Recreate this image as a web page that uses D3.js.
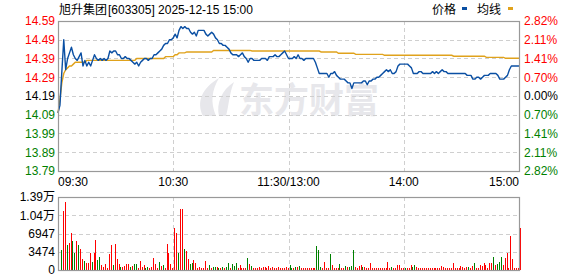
<!DOCTYPE html>
<html>
<head>
<meta charset="utf-8">
<script src="https://cdn.jsdelivr.net/npm/d3@7"></script>
<style>
  html, body { margin: 0; padding: 0; background: #fff; }
  svg { display: block; }
  text { font-family: "Liberation Sans", Arial, sans-serif; font-size: 12px; }
  .cjk { font-family: "Noto Sans CJK SC", sans-serif; }
</style>
</head>
<body>
<div id="chart"></div>
<script>
// 旭升集团 intraday chart, 2025-12-15

var stockName = '旭升集团';
var stockInfo = '[603305] 2025-12-15 15:00';
var preClose = 14.19;

var priceTicks = [14.59, 14.49, 14.39, 14.29, 14.19, 14.09, 13.99, 13.89, 13.79];
var pctTicks   = ['2.82', '2.11', '1.41', '0.70', '0.00', '0.70', '1.41', '2.11', '2.82'];

var timeTicks  = [0, 60, 120, 180, 240];
var timeLabels = ['09:30', '10:30', '11:30/13:00', '14:00', '15:00'];

var volTicks  = [0, 3474, 6947, 10420, 13894];
var volLabels = ['0', '3474', '6947', '1.04万', '1.39万'];

// minute prices, 09:30 .. 15:00
var price = [
  14.10,14.14,14.32,14.49,14.33,14.39,14.42,14.45,14.41,14.39,
  14.38,14.40,14.42,14.35,14.38,14.35,14.37,14.35,14.38,14.41,
  14.39,14.38,14.39,14.38,14.39,14.38,14.39,14.43,14.42,14.43,
  14.43,14.41,14.41,14.39,14.39,14.40,14.39,14.39,14.38,14.37,
  14.36,14.37,14.35,14.37,14.38,14.39,14.39,14.38,14.39,14.39,
  14.41,14.41,14.42,14.43,14.44,14.46,14.47,14.47,14.49,14.49,
  14.50,
  14.52,14.50,14.54,14.56,14.55,14.56,14.55,14.55,14.53,14.52,
  14.53,14.51,14.54,14.54,14.54,14.54,14.52,14.51,14.52,14.53,
  14.52,14.50,14.49,14.47,14.47,14.46,14.46,14.45,14.44,14.42,
  14.41,14.41,14.41,14.40,14.41,14.42,14.40,14.39,14.37,14.39,
  14.39,14.38,14.38,14.38,14.38,14.39,14.39,14.39,14.38,14.40,
  14.40,14.40,14.41,14.40,14.40,14.41,14.42,14.43,14.41,14.39,
  14.39,14.39,14.40,14.39,14.41,14.39,14.39,14.38,14.39,14.39,
  14.39,14.39,14.39,14.37,14.34,14.31,14.31,14.31,14.31,14.31,
  14.29,14.31,14.31,14.32,14.30,14.29,14.28,14.28,14.28,14.27,
  14.26,14.26,14.23,14.26,14.26,14.26,14.26,14.26,14.27,14.27,
  14.25,14.27,14.27,14.28,14.28,14.29,14.29,14.30,14.31,14.32,
  14.33,14.32,14.33,14.31,14.31,14.32,14.35,14.36,14.36,14.36,
  14.36,14.36,14.35,14.34,14.31,14.31,14.31,14.32,14.32,14.31,
  14.31,14.31,14.31,14.31,14.32,14.31,14.32,14.31,14.32,14.33,
  14.32,14.32,14.31,14.31,14.31,14.31,14.31,14.31,14.31,14.31,
  14.31,14.31,14.30,14.30,14.30,14.28,14.28,14.29,14.29,14.28,
  14.29,14.30,14.30,14.30,14.31,14.31,14.31,14.31,14.30,14.28,
  14.28,14.28,14.29,14.30,14.33,14.35,14.35,14.35,14.35,14.35
];

// average price line
var avgPrice = [
  14.10,14.17,14.26,14.31,14.33,14.34,14.35,14.35,14.36,14.37,
  14.37,14.37,14.37,14.37,14.37,14.38,14.38,14.38,14.38,14.38,
  14.38,14.38,14.38,14.38,14.38,14.38,14.38,14.38,14.38,14.38,
  14.38,14.38,14.38,14.38,14.38,14.38,14.38,14.38,14.38,14.38,
  14.38,14.39,14.39,14.39,14.39,14.39,14.39,14.39,14.39,14.39,
  14.39,14.39,14.39,14.39,14.39,14.39,14.40,14.40,14.40,14.40,
  14.40,
  14.41,14.41,14.42,14.42,14.42,14.42,14.425,14.425,14.425,14.425,
  14.425,14.425,14.425,14.425,14.425,14.425,14.425,14.425,14.425,14.425,
  14.433,14.433,14.433,14.433,14.433,14.433,14.433,14.433,14.433,14.433,
  14.433,14.433,14.433,14.433,14.433,14.433,14.433,14.433,14.433,14.433,
  14.43,14.43,14.43,14.43,14.43,14.43,14.43,14.43,14.43,14.43,
  14.43,14.43,14.43,14.43,14.43,14.43,14.43,14.43,14.43,14.43,
  14.43,14.43,14.43,14.43,14.43,14.43,14.43,14.43,14.43,14.43,
  14.43,14.43,14.43,14.43,14.43,14.43,14.425,14.425,14.425,14.425,
  14.425,14.425,14.425,14.425,14.425,14.418,14.418,14.418,14.418,14.418,
  14.418,14.418,14.418,14.418,14.412,14.412,14.412,14.412,14.412,14.412,
  14.412,14.412,14.412,14.412,14.412,14.412,14.412,14.412,14.412,14.407,
  14.407,14.407,14.407,14.407,14.407,14.407,14.407,14.407,14.407,14.407,
  14.407,14.407,14.407,14.407,14.407,14.407,14.407,14.407,14.407,14.407,
  14.407,14.407,14.407,14.407,14.407,14.407,14.407,14.407,14.407,14.407,
  14.407,14.407,14.407,14.407,14.407,14.402,14.402,14.402,14.402,14.402,
  14.402,14.402,14.402,14.402,14.402,14.402,14.402,14.402,14.402,14.402,
  14.402,14.402,14.396,14.396,14.396,14.396,14.396,14.396,14.396,14.396,
  14.396,14.396,14.391,14.391,14.391,14.391,14.391,14.391,14.391,14.391
];

// minute volume (shares)
var volume = [
  0,3790,11250,12950,4740,5180,7080,5560,3290,5560,
  4740,3980,2020,1770,1260,1390,3290,1580,3290,5690,
  1900,2530,950,500,1140,320,3030,4740,950,4930,
  2020,1140,630,630,760,1070,1070,630,760,1070,
  1070,320,1770,630,950,320,630,320,500,2210,
  1140,320,1580,760,950,320,4930,3160,1070,320,
  8000,7080,3290,11570,11570,4040,3600,2020,1140,1260,
  1900,1390,320,500,320,320,1770,320,950,320,
  500,500,500,320,320,630,320,500,1260,320,
  1070,760,1260,320,950,320,320,320,2210,1140,
  760,320,320,320,500,320,500,630,320,760,
  320,630,320,320,630,320,320,320,630,320,
  950,
  320,320,500,630,760,320,320,320,320,320,
  320,320,320,4550,3790,630,320,1580,320,320,
  3030,950,320,320,320,1140,320,320,760,500,
  630,760,3790,500,320,760,950,630,500,320,
  320,1260,320,320,320,320,320,320,320,320,
  1580,320,500,320,320,950,950,320,320,440,
  320,320,880,500,950,630,320,320,320,320,
  320,320,320,320,320,320,320,320,760,500,
  320,440,440,320,1260,320,440,320,760,630,
  320,630,630,440,760,1260,320,320,950,760,
  1260,950,320,1260,1260,2400,950,1140,1580,2530,
  950,2210,3290,320,6450,2020,320,320,320,8030
];

// 1 = up minute (red), 0 = down minute (green)
var volUp = [
  1,0,1,1,0,1,1,0,0,1,
  0,1,1,0,1,1,1,0,1,1,
  0,0,1,1,1,1,1,1,0,1,
  1,1,0,1,1,1,1,0,1,0,
  0,1,1,1,1,0,0,1,1,1,
  1,1,0,1,0,1,1,1,1,1,
  1,1,0,1,1,0,1,1,0,0,
  1,1,1,1,1,1,1,1,0,1,
  0,0,1,0,1,0,1,0,0,1,
  0,0,0,1,1,1,1,1,0,1,
  0,1,1,1,1,1,1,1,1,1,
  1,1,1,1,1,1,1,1,1,1,
  0,
  0,1,0,1,0,1,1,1,1,1,
  1,1,1,0,0,0,1,1,1,1,
  0,1,1,1,1,0,1,1,0,1,
  0,0,0,1,1,1,1,0,1,1,
  1,1,1,1,1,1,1,1,1,1,
  1,1,0,1,1,1,1,1,1,0,
  1,1,1,0,0,1,1,1,1,1,
  1,1,1,1,1,1,1,1,1,1,
  1,1,1,1,1,1,1,1,1,1,
  1,1,0,1,1,0,1,1,1,1,
  1,1,1,1,1,0,1,0,0,0,
  1,1,1,1,1,1,1,1,1,1
];

(function () {
  'use strict';

  var W = 578, H = 276;
  var RED = '#ff0000', GREEN = '#008000';
  var BLUE = '#0a4fa3', GOLD = '#e0a21c';
  var GRID = '#cfcfcf', FRAME = '#999';

  var plot = { left: 58, right: 519, top: 21, bottom: 171 };
  var volBox = { top: 197, bottom: 270 };

  var svg = d3.select('#chart').append('svg')
    .attr('width', W).attr('height', H);

  var x = d3.scaleLinear().domain([0, 240]).range([plot.left, plot.right]);
  var y = d3.scaleLinear().domain([13.79, 14.59]).range([plot.bottom, plot.top]);
  var yv = d3.scaleLinear().domain([0, 13894]).range([volBox.bottom, volBox.top]);

  function tickColor(v) {
    if (Math.abs(v - preClose) < 0.001) return '#000';
    return v > preClose ? RED : GREEN;
  }

  // ---- header
  var title = svg.append('text').attr('x', 59).attr('y', 14).attr('fill', '#000');
  title.append('tspan').attr('class', 'cjk').text(stockName);
  title.append('tspan').attr('dx', 1).text(stockInfo);

  var legend = svg.append('g');
  legend.append('text').attr('class', 'cjk').attr('x', 432).attr('y', 14).text('价格');
  legend.append('rect').attr('x', 462).attr('y', 7).attr('width', 5).attr('height', 3).attr('fill', BLUE);
  legend.append('text').attr('class', 'cjk').attr('x', 477).attr('y', 14).text('均线');
  legend.append('rect').attr('x', 508).attr('y', 7).attr('width', 5).attr('height', 3).attr('fill', GOLD);

  // ---- watermark
  var wm = svg.append('g').attr('fill', '#e7e7eb');
  wm.append('path')
    .attr('d', 'M203,116 C196,102 202,88 219,78 C212,90 210,102 216,116 Z');
  wm.append('path')
    .attr('d', 'M219,116 C216,103 222,90 234,82 C229,94 229,105 226,116 Z');
  wm.append('text').attr('class', 'cjk')
    .attr('x', 239).attr('y', 113)
    .style('font-size', '35px').style('font-weight', 'bold')
    .text('东方财富');

  // ---- price grid
  var grid = svg.append('g').attr('stroke', GRID).attr('stroke-dasharray', '4,3').attr('shape-rendering', 'crispEdges');
  grid.selectAll('line.h').data(priceTicks.slice(1, -1)).enter().append('line')
    .attr('x1', plot.left).attr('x2', plot.right)
    .attr('y1', function (d) { return Math.round(y(d)) + 0.5; })
    .attr('y2', function (d) { return Math.round(y(d)) + 0.5; });
  grid.selectAll('line.v').data(timeTicks.slice(1, -1)).enter().append('line')
    .attr('y1', plot.top).attr('y2', plot.bottom)
    .attr('x1', function (d) { return Math.round(x(d)) + 0.5; })
    .attr('x2', function (d) { return Math.round(x(d)) + 0.5; });

  // ---- volume grid
  var vgrid = svg.append('g').attr('stroke', GRID).attr('stroke-dasharray', '4,3').attr('shape-rendering', 'crispEdges');
  vgrid.selectAll('line.h').data(volTicks.slice(1, -1)).enter().append('line')
    .attr('x1', plot.left).attr('x2', plot.right)
    .attr('y1', function (d) { return Math.round(yv(d)) + 0.5; })
    .attr('y2', function (d) { return Math.round(yv(d)) + 0.5; });
  vgrid.selectAll('line.v').data(timeTicks.slice(1, -1)).enter().append('line')
    .attr('y1', volBox.top).attr('y2', volBox.bottom)
    .attr('x1', function (d) { return Math.round(x(d)) + 0.5; })
    .attr('x2', function (d) { return Math.round(x(d)) + 0.5; });

  // ---- volume bars
  svg.append('g').attr('shape-rendering', 'crispEdges')
    .selectAll('rect').data(volume).enter().append('rect')
    .attr('x', function (d, i) { return Math.round(x(i) + 1); })
    .attr('width', 1)
    .attr('y', function (d) { return yv(d); })
    .attr('height', function (d) { return volBox.bottom - yv(d); })
    .attr('fill', function (d, i) { return volUp[i] ? RED : GREEN; });

  // ---- lines
  var line = d3.line()
    .x(function (d, i) { return x(i); })
    .y(function (d) { return y(d); });

  svg.append('path').datum(avgPrice)
    .attr('d', line).attr('fill', 'none')
    .attr('stroke', GOLD).attr('stroke-width', 1.4);

  svg.append('path').datum(price)
    .attr('d', line).attr('fill', 'none')
    .attr('stroke', BLUE).attr('stroke-width', 1.4)
    .attr('stroke-linejoin', 'round');

  // ---- frames
  svg.append('rect')
    .attr('x', plot.left + 0.5).attr('y', plot.top + 0.5)
    .attr('width', plot.right - plot.left).attr('height', plot.bottom - plot.top)
    .attr('fill', 'none').attr('stroke', FRAME).attr('stroke-width', 1.2);
  svg.append('rect')
    .attr('x', plot.left + 0.5).attr('y', volBox.top + 0.5)
    .attr('width', plot.right - plot.left).attr('height', volBox.bottom - volBox.top)
    .attr('fill', 'none').attr('stroke', FRAME).attr('stroke-width', 1.2);

  // ---- price labels (left)
  svg.append('g').selectAll('text').data(priceTicks).enter().append('text')
    .attr('x', 55).attr('y', function (d) { return y(d); })
    .attr('dy', '0.36em').attr('text-anchor', 'end')
    .attr('fill', tickColor)
    .text(function (d) { return d.toFixed(2); });

  // ---- percent labels (right)
  svg.append('g').selectAll('text').data(pctTicks).enter().append('text')
    .attr('x', 524).attr('y', function (d, i) { return y(priceTicks[i]); })
    .attr('dy', '0.36em')
    .attr('fill', function (d, i) { return tickColor(priceTicks[i]); })
    .text(function (d) { return d + '%'; });

  // ---- time labels
  svg.append('g').selectAll('text').data(timeTicks).enter().append('text')
    .attr('x', function (d) { return x(d); })
    .attr('y', 186)
    .attr('text-anchor', function (d, i) {
      return i === 0 ? 'start' : (i === timeTicks.length - 1 ? 'end' : 'middle');
    })
    .attr('fill', '#000')
    .text(function (d, i) { return timeLabels[i]; });

  // ---- volume labels (digits in latin font, 万 in CJK font)
  var vl = svg.append('g').selectAll('text').data(volTicks).enter().append('text')
    .attr('x', 55).attr('y', function (d) { return yv(d); })
    .attr('dy', '0.36em').attr('text-anchor', 'end')
    .attr('fill', '#000');
  vl.each(function (d, i) {
    var t = d3.select(this);
    var lab = volLabels[i];
    if (lab.indexOf('万') >= 0) {
      t.append('tspan').text(lab.replace('万', ''));
      t.append('tspan').attr('class', 'cjk').text('万');
    } else {
      t.text(lab);
    }
  });
})();
</script>
</body>
</html>
